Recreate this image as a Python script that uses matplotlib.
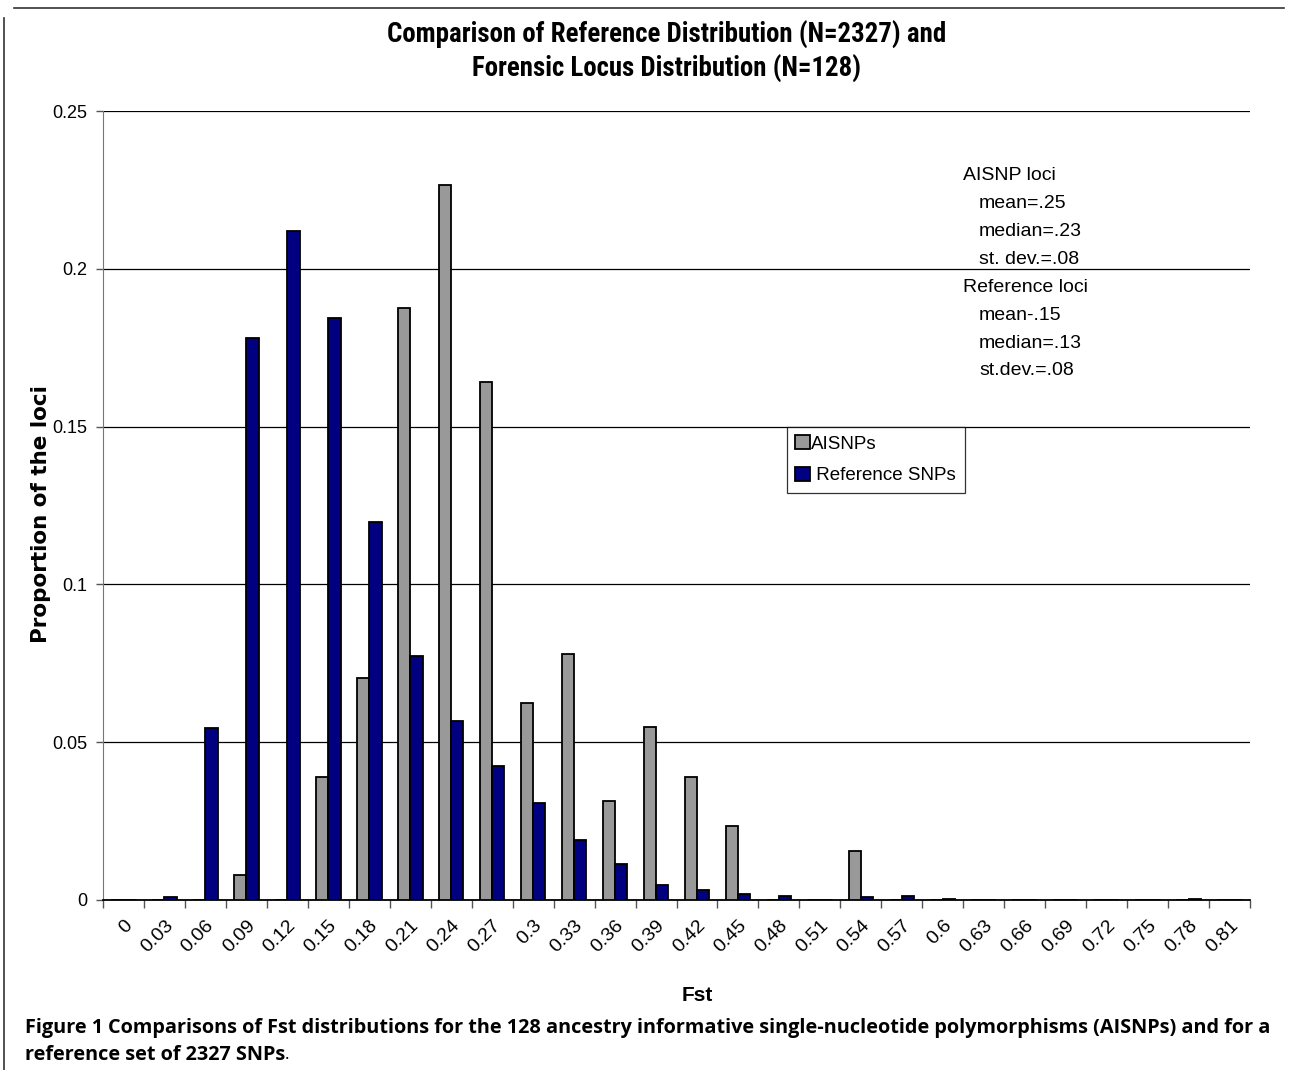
import matplotlib
matplotlib.use("Agg")
import matplotlib.pyplot as plt
import numpy as np
from matplotlib.lines import Line2D
from matplotlib import font_manager

categories = ["0", "0.03", "0.06", "0.09", "0.12", "0.15", "0.18", "0.21", "0.24", "0.27",
              "0.3", "0.33", "0.36", "0.39", "0.42", "0.45", "0.48", "0.51", "0.54", "0.57",
              "0.6", "0.63", "0.66", "0.69", "0.72", "0.75", "0.78", "0.81"]
aisnps = [0, 0, 0, 0.0078, 0, 0.0391, 0.0703, 0.1875, 0.2266, 0.1641,
          0.0625, 0.0781, 0.0313, 0.0547, 0.0391, 0.0234, 0, 0, 0.0156, 0,
          0, 0, 0, 0, 0, 0, 0, 0]
reference = [0, 0.0009, 0.0545, 0.178, 0.212, 0.1844, 0.1198, 0.0773, 0.0567, 0.0425,
             0.0307, 0.019, 0.0114, 0.0048, 0.0032, 0.0019, 0.0013, 0, 0.0009, 0.0013,
             0.0004, 0, 0, 0, 0, 0, 0.0004, 0]
yticks = [0, 0.05, 0.1, 0.15, 0.2, 0.25]
ytick_labels = ["0", "0.05", "0.1", "0.15", "0.2", "0.25"]

names = sorted({f.name for f in font_manager.fontManager.ttflist})
narrow = None
for cand in ["Liberation Sans Narrow", "Arial Narrow", "Roboto Condensed",
             "Open Sans Condensed", "DejaVu Sans Condensed"]:
    if cand in names:
        narrow = cand
        break
if narrow is None:
    for n in names:
        if "Narrow" in n or "Condensed" in n:
            narrow = n
            break
narrow_fam = [narrow, "Liberation Sans"] if narrow else ["Liberation Sans"]

W, H = 1290, 1070
fig = plt.figure(figsize=(W / 100, H / 100), dpi=100)
fig.patch.set_facecolor("white")

def fx(px):
    return px / W

def fy(py):
    return 1 - py / H

ax = fig.add_axes([fx(103), fy(900), fx(1250) - fx(103), fy(111) - fy(900)])
x = np.arange(len(categories))
bw = 0.3
ax.bar(x - bw / 2, aisnps, width=bw, color="#999999", edgecolor="black", linewidth=1.3,
       label="AISNPs", zorder=3)
ax.bar(x + bw / 2, reference, width=bw, color="#000080", edgecolor="black", linewidth=1.3,
       label=" Reference SNPs", zorder=3)

ax.set_xlim(-0.5, len(categories) - 0.5)
ax.set_ylim(0, 0.25)
ax.set_yticks(yticks)
ax.set_yticklabels(ytick_labels, fontsize=13, family="Liberation Sans")
ax.yaxis.grid(True, color="black", linewidth=0.9, zorder=0)
ax.set_xticks(x)
ax.set_xticklabels(categories, rotation=45, ha="right", rotation_mode="anchor",
                   fontsize=14, family="Liberation Sans")
ax.tick_params(axis="x", which="major", length=0, pad=12)
ax.set_xticks(np.arange(len(categories) + 1) - 0.5, minor=True)
ax.tick_params(axis="x", which="minor", length=6, color="#555555", width=1)
ax.tick_params(axis="y", length=5, color="#555555", width=1, pad=6)
for s in ["top", "right"]:
    ax.spines[s].set_visible(False)
ax.spines["left"].set_color("#777777")
ax.spines["bottom"].set_color("black")
ax.spines["bottom"].set_linewidth(1.3)

ax.set_xlabel("Fst", fontsize=15, fontweight="bold", family="Liberation Sans")
ax.set_ylabel("Proportion of the loci", fontsize=15.5, fontweight="bold",
              family="DejaVu Sans")
ax.xaxis.set_label_coords((697 - 103) / 1147, (900 - 986) / 789)
ax.yaxis.set_label_coords((51 - 103) / 1147, (900 - 514) / 789)

leg = ax.legend(loc="upper left", bbox_to_anchor=((787 - 103) / 1147, (900 - 427) / 789),
                frameon=True, fancybox=False, edgecolor="black",
                prop={"family": "Liberation Sans", "size": 13.5},
                handlelength=0.75, handleheight=0.75, handletextpad=0.1,
                borderpad=0.45, labelspacing=0.75, borderaxespad=0)
leg.get_frame().set_linewidth(0.9)

fig.text(fx(667), fy(35), "Comparison of Reference Distribution (N=2327) and",
         ha="center", va="center", fontsize=19.4, fontweight="bold", family=narrow_fam)
fig.text(fx(667), fy(69), "Forensic Locus Distribution (N=128)",
         ha="center", va="center", fontsize=19.4, fontweight="bold", family=narrow_fam)

notes = [("AISNP loci", 963), ("mean=.25", 979), ("median=.23", 979), ("st. dev.=.08", 979),
         ("Reference loci", 963), ("mean-.15", 979), ("median=.13", 979), ("st.dev.=.08", 979)]
for i, (t, px) in enumerate(notes):
    fig.text(fx(px), fy(175 + 28 * i), t, ha="left", va="center", fontsize=14,
             family="Liberation Sans")

# caption, fitted to the width 25..1276 px
cap_fam = ["Open Sans", "DejaVu Sans"]
renderer = fig.canvas.get_renderer()
line1_rest = "Comparisons of Fst distributions for the 128 ancestry informative single-nucleotide polymorphisms (AISNPs) and for a"
fs = 13.0
for _ in range(4):
    t1 = fig.text(fx(25), fy(1027), "Figure 1 ", ha="left", va="center", fontsize=fs,
                  fontweight="bold", family=cap_fam)
    w1 = t1.get_window_extent(renderer).width
    t2 = fig.text(fx(25) + w1 / W, fy(1027), line1_rest, ha="left", va="center",
                  fontsize=fs, fontweight="bold", family=cap_fam)
    w2 = t2.get_window_extent(renderer).width
    total = w1 + w2
    t1.remove()
    t2.remove()
    fs = fs * (1276 - 25) / total
t1 = fig.text(fx(25), fy(1028), "Figure 1 ", ha="left", va="center", fontsize=fs,
              fontweight="bold", family=cap_fam)
w1 = t1.get_window_extent(renderer).width
fig.text(fx(25) + w1 / W, fy(1028), line1_rest, ha="left", va="center",
         fontsize=fs, fontweight="bold", family=cap_fam)
t3 = fig.text(fx(25), fy(1055), "reference set of 2327 SNPs", ha="left", va="center",
              fontsize=fs, fontweight="bold", family=cap_fam)
w3 = t3.get_window_extent(renderer).width
fig.text(fx(25) + w3 / W, fy(1055), ".", ha="left", va="center",
         fontsize=fs * 0.85, fontweight="normal", family=cap_fam)

fig.add_artist(Line2D([fx(14), fx(1284)], [fy(8), fy(8)], color="#333333", lw=1.2))
fig.add_artist(Line2D([fx(4), fx(4)], [fy(18), fy(1070)], color="#333333", lw=1.2))

fig.savefig("out.png", dpi=100, facecolor="white")
